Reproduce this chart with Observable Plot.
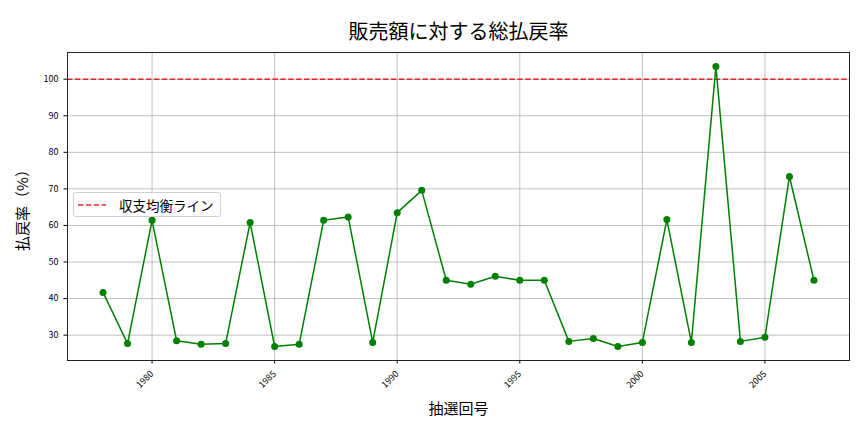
<!DOCTYPE html>
<html>
<head>
<meta charset="utf-8">
<script src="https://cdn.jsdelivr.net/npm/d3@7"></script>
<script src="https://cdn.jsdelivr.net/npm/@observablehq/plot@0.6"></script>
<style>
  body { margin: 0; background: #fff; font-family: "Noto Sans CJK JP", "Noto Sans", sans-serif; }
  #wrap { position: relative; width: 864px; height: 432px; }
  #legend {
    position: absolute; left: 73px; top: 192px; width: 148px; height: 25px;
    border: 1px solid #d0d0d0; border-radius: 3px; background: rgba(255,255,255,0.8);
    box-sizing: border-box; display: flex; align-items: center;
    font-family: "Noto Sans CJK JP", sans-serif; font-size: 13.5px; color: #000;
  }
  #legend svg { margin-left: 4px; margin-right: 13px; }
</style>
</head>
<body>
<div id="wrap"></div>
<script>
const years = [1978,1979,1980,1981,1982,1983,1984,1985,1986,1987,1988,1989,1990,1991,1992,
               1993,1994,1995,1996,1997,1998,1999,2000,2001,2002,2003,2004,2005,2006,2007];
const rates = [41.7,27.7,61.4,28.5,27.5,27.7,60.8,26.9,27.5,61.4,62.3,28.0,63.5,69.6,45.0,
               43.9,46.1,45.0,45.0,28.3,29.1,26.9,28.0,61.6,28.0,103.5,28.3,29.4,73.4,45.0];
const xTicks = [1980,1985,1990,1995,2000,2005];
const yTicks = [30,40,50,60,70,80,90,100];
const breakEven = [100];
const titleText = "販売額に対する総払戻率";
const xLabel = "抽選回号";
const yLabel = "払戻率（%）";
const legendLabel = "収支均衡ライン";

const data = years.map((y, i) => ({year: y, rate: rates[i]}));

const chart = Plot.plot({
  width: 864,
  height: 432,
  marginLeft: 67,
  marginRight: 15,
  marginTop: 52,
  marginBottom: 72,
  style: {fontFamily: "'Noto Sans CJK JP', sans-serif", color: "#000", background: "#fff"},
  x: {domain: [1976.55, 2008.45]},
  y: {domain: [23.07, 107.3]},
  marks: [
    Plot.gridX(xTicks, {stroke: "#b0b0b0", strokeOpacity: 1, strokeWidth: 0.8}),
    Plot.gridY(yTicks, {stroke: "#b0b0b0", strokeOpacity: 1, strokeWidth: 0.8}),
    Plot.ruleY(breakEven, {stroke: "#e8262a", strokeWidth: 1.5, strokeDasharray: "5.5,2.4"}),
    Plot.line(data, {x: "year", y: "rate", stroke: "green", strokeWidth: 1.5}),
    Plot.dot(data, {x: "year", y: "rate", fill: "green", r: 3.5}),
    Plot.axisX(xTicks, {tickFormat: d => String(d), tickRotate: -45, fontSize: 9, tickSize: 3.5,
      label: xLabel, labelAnchor: "center", labelArrow: "none", labelOffset: 53}),
    Plot.axisY(yTicks, {tickFormat: d => String(d), fontSize: 9, tickSize: 3.5,
      label: yLabel, labelAnchor: "center", labelArrow: "none", labelOffset: 50}),
    Plot.frame({stroke: "#222", strokeWidth: 1}),
    Plot.text([titleText], {frameAnchor: "top", dy: -28, fontSize: 20, fill: "#000"})
  ]
});
const wrap = document.getElementById("wrap");
wrap.appendChild(chart);
chart.querySelectorAll("g[aria-label='x-axis label'] text, g[aria-label='y-axis label'] text").forEach(t => {
  t.setAttribute("font-size", "15");
  t.style.fontSize = "15px";
});

const legend = document.createElement("div");
legend.id = "legend";
legend.innerHTML = `<svg width="28" height="6"><line x1="0" y1="3" x2="28" y2="3" stroke="#e8262a" stroke-width="1.5" stroke-dasharray="5.5,2.4"/></svg><span>${legendLabel}</span>`;
wrap.appendChild(legend);
</script>
</body>
</html>
